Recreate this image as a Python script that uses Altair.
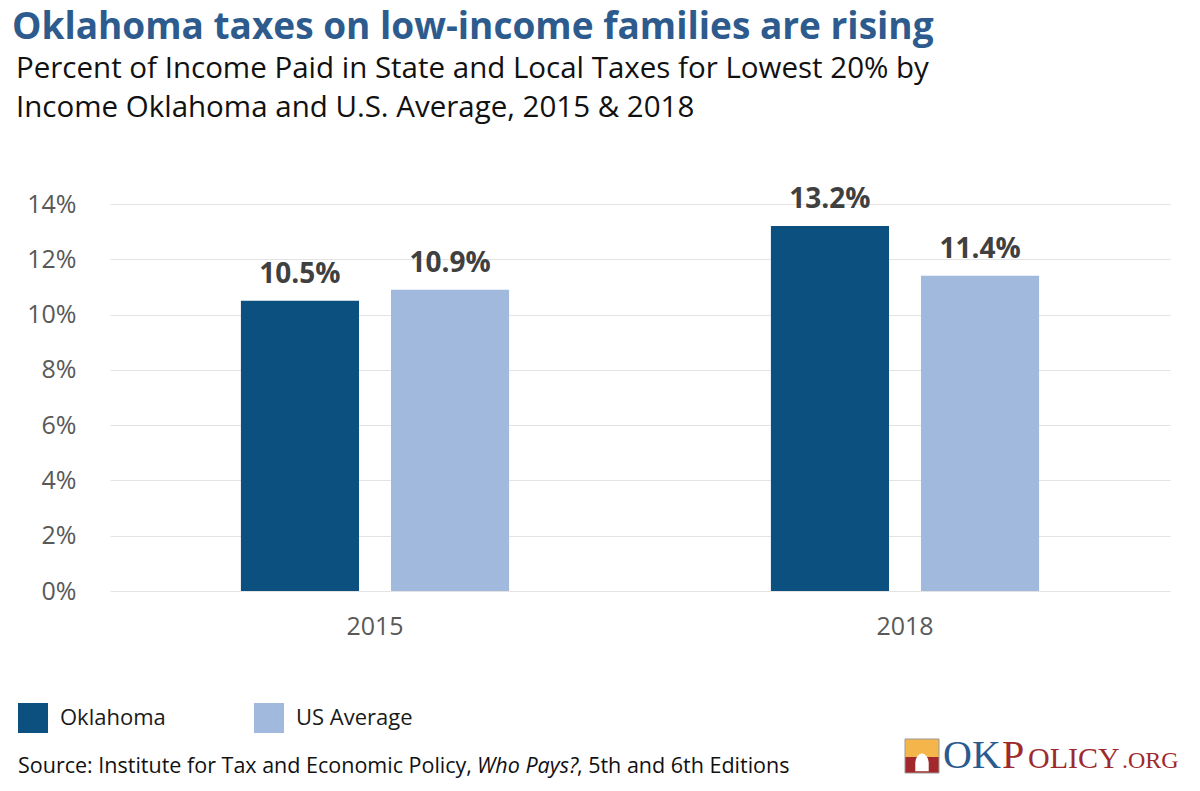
import altair as alt
import pandas as pd

# ---- data ----
years = ["2015", "2018"]
series = ["Oklahoma", "US Average"]
oklahoma = [10.5, 13.2]
us_average = [10.9, 11.4]
y_ticks = [0, 2, 4, 6, 8, 10, 12, 14]

title_text = "Oklahoma taxes on low-income families are rising"
subtitle_lines = [
    "Percent of Income Paid in State and Local Taxes for Lowest 20% by",
    "Income Oklahoma and U.S. Average, 2015 & 2018",
]
source_parts = ["Source: Institute for Tax and Economic Policy,", "Who Pays?", ", 5th and 6th Editions"]

rows = []
for i, yr in enumerate(years):
    rows.append({"year": yr, "series": series[0], "value": oklahoma[i]})
    rows.append({"year": yr, "series": series[1], "value": us_average[i]})
df = pd.DataFrame(rows)

FONT = "Open Sans"
OK_BLUE = "#0c5080"
US_BLUE = "#a1b9dd"

x_enc = alt.X(
    "year:N",
    scale=alt.Scale(paddingInner=0.494, paddingOuter=0.247),
    axis=alt.Axis(title=None, labelAngle=0, labelFontSize=25, labelColor="#595959",
                  labelFont=FONT, ticks=False, domain=False, labelPadding=23, grid=False),
)
xo_enc = alt.XOffset("series:N", scale=alt.Scale(domain=series, paddingInner=0.213, paddingOuter=0))
y_enc = alt.Y(
    "value:Q",
    scale=alt.Scale(domain=[0, 14], nice=False),
    axis=alt.Axis(title=None, values=y_ticks, labelExpr="datum.value + '%'", labelFontSize=25,
                  labelColor="#595959", labelFont=FONT, ticks=False, domain=False,
                  labelPadding=34, grid=True, gridColor="#e3e3e3", gridWidth=1),
)

base = alt.Chart(df)
bars = base.mark_bar().encode(
    x=x_enc,
    xOffset=xo_enc,
    y=y_enc,
    color=alt.Color(
        "series:N",
        scale=alt.Scale(domain=series, range=[OK_BLUE, US_BLUE]),
        legend=alt.Legend(title=None, orient="none", legendX=-92, legendY=499,
                          direction="horizontal", symbolType="square", symbolSize=900,
                          symbolStrokeWidth=0, labelFontSize=22, labelFont=FONT,
                          labelColor="#1a1a1a", labelOffset=12, columnPadding=88, padding=0),
    ),
)
labels = base.transform_calculate(
    label="format(datum.value, '.1f') + '%'"
).mark_text(baseline="alphabetic", dy=-18, fontSize=28, fontWeight="bold", font=FONT, color="#404040").encode(
    x=x_enc, xOffset=xo_enc, y=y_enc, text="label:N"
)

def txt(s, x, y, **kw):
    return alt.Chart(pd.DataFrame({"t": [s]})).mark_text(align=kw.pop("align", "left"), baseline="alphabetic", **kw).encode(
        text="t:N", x=alt.value(x), y=alt.value(y)
    )

# plot origin on page is (110, 204)
title = txt(title_text, -98, -165, font=FONT, fontSize=37, fontWeight="bold", color="#2d5b8e")
sub1 = txt(subtitle_lines[0], -94, -126, font=FONT, fontSize=29.5, color="#111111")
sub2 = txt(subtitle_lines[1], -94, -87, font=FONT, fontSize=29.5, color="#111111")
src1 = txt(source_parts[0], -92, 569, font=FONT, fontSize=21.5, color="#111111")
src2 = txt(source_parts[1], 367, 569, font=FONT, fontSize=21.5, fontStyle="italic", color="#111111")
src3 = txt(source_parts[2], 467, 569, font=FONT, fontSize=21.5, color="#111111")

# logo
icon_top = alt.Chart(pd.DataFrame({"a": [0]})).mark_rect(color="#f4b54a").encode(
    x=alt.value(795), x2=alt.value(829), y=alt.value(535), y2=alt.value(553))
icon_bot = alt.Chart(pd.DataFrame({"a": [0]})).mark_rect(color="#a3282b").encode(
    x=alt.value(795), x2=alt.value(829), y=alt.value(553), y2=alt.value(569))
icon_dome = alt.Chart(pd.DataFrame({"a": [0]})).mark_point(
    shape="M-0.6,1 L-0.6,0.2 Q-0.5,-0.5 0,-0.6 L0,-1 L0,-0.6 Q0.5,-0.5 0.6,0.2 L0.6,1 Z",
    filled=True, color="white", opacity=1, size=500).encode(x=alt.value(812), y=alt.value(556))
icon_border = alt.Chart(pd.DataFrame({"a": [0]})).mark_rect(fill="transparent", stroke="#999999", strokeWidth=1).encode(
    x=alt.value(795), x2=alt.value(829), y=alt.value(535), y2=alt.value(569))
logo_font = "Liberation Serif"
logo1 = txt("OK", 833, 564, font=logo_font, fontSize=40, color="#2b5a8f")
logo2 = txt("P", 892, 564, font=logo_font, fontSize=40, color="#9e2a2d")
logo3 = txt("OLICY", 918, 564, font=logo_font, fontSize=30, color="#9e2a2d")
logo4 = txt(".ORG", 1012, 564, font=logo_font, fontSize=24, color="#9e2a2d")

chart = alt.layer(
    bars, labels, title, sub1, sub2, src1, src2, src3,
    icon_top, icon_bot, icon_dome, icon_border, logo1, logo2, logo3, logo4,
).properties(
    width=1060, height=387,
    autosize=alt.AutoSizeParams(type="none"),
    padding={"left": 102, "top": 196, "right": 14, "bottom": 190},
    background="white",
).configure_view(strokeOpacity=0, strokeWidth=0)

chart.save("out.html", embed_options={"renderer": "svg", "actions": False})
